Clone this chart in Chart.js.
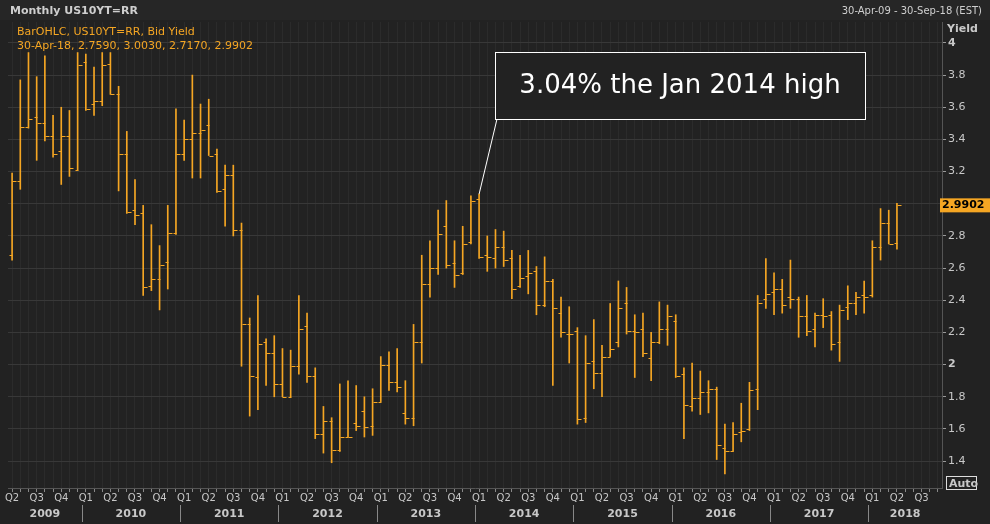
<!DOCTYPE html>
<html>
<head>
<meta charset="utf-8">
<script src="https://cdn.jsdelivr.net/npm/chart.js@4.4.1/dist/chart.umd.min.js"></script>
<style>
  body { margin: 0; background: #1c1c1c; }
  #wrap { position: relative; width: 990px; height: 524px; }
</style>
</head>
<body>
<div id="wrap"><canvas id="ohlc" width="990" height="524"></canvas></div>
<script>
// monthly bars, Apr 2009 .. Apr 2018
const opens = [
  2.68, 3.14, 3.48, 3.54, 3.50, 3.42, 3.33, 3.42, 3.21,
  3.88, 3.62, 3.64, 3.87, 3.68, 3.31, 2.96, 2.94, 2.49, 2.53, 2.64, 2.82,
  3.31, 3.40, 3.44, 3.49, 3.31, 3.09, 3.18, 2.84, 2.25, 1.92, 2.14, 2.07,
  1.88, 1.80, 1.99, 2.24, 1.93, 1.57, 1.65, 1.47, 1.55, 1.64, 1.71, 1.62,
  1.77, 2.00, 1.89, 1.70, 1.67, 2.14, 2.50, 2.60, 2.86, 2.63, 2.57, 2.76,
  3.03, 2.68, 2.66, 2.73, 2.66, 2.49, 2.55, 2.58, 2.37, 2.52, 2.32, 2.19,
  2.21, 1.67, 2.02, 1.95, 2.05, 2.14, 2.38, 2.21, 2.22, 2.04, 2.14, 2.22,
  2.27, 1.94, 1.74, 1.79, 1.83, 1.85, 1.48, 1.46, 1.58, 1.60, 1.85, 2.41,
  2.45, 2.47, 2.42, 2.41, 2.30, 2.22, 2.31, 2.31, 2.14, 2.36, 2.38, 2.43,
  2.43, 2.73, 2.88, 2.759
]
const highs = [
  3.19, 3.77, 3.94, 3.79, 3.92, 3.55, 3.60, 3.58, 3.94,
  3.93, 3.85, 3.94, 3.94, 3.73, 3.45, 3.15, 2.99, 2.87, 2.74, 2.99, 3.59,
  3.52, 3.80, 3.62, 3.65, 3.34, 3.24, 3.24, 2.88, 2.29, 2.43, 2.16, 2.18,
  2.10, 2.09, 2.43, 2.32, 1.98, 1.74, 1.67, 1.88, 1.90, 1.87, 1.80, 1.85,
  2.05, 2.08, 2.10, 1.90, 2.25, 2.68, 2.77, 2.96, 3.02, 2.77, 2.86, 3.05,
  3.06, 2.80, 2.84, 2.83, 2.71, 2.68, 2.71, 2.61, 2.67, 2.53, 2.42, 2.36,
  2.23, 2.18, 2.28, 2.12, 2.38, 2.52, 2.48, 2.31, 2.32, 2.20, 2.39, 2.37,
  2.31, 1.98, 2.01, 1.96, 1.90, 1.86, 1.63, 1.64, 1.76, 1.89, 2.43, 2.66,
  2.57, 2.53, 2.65, 2.42, 2.43, 2.32, 2.41, 2.33, 2.37, 2.49, 2.45, 2.52,
  2.77, 2.97, 2.96, 3.003
]
const lows = [
  2.65, 3.09, 3.47, 3.27, 3.39, 3.29, 3.12, 3.17, 3.21,
  3.58, 3.55, 3.61, 3.68, 3.08, 2.94, 2.87, 2.43, 2.46, 2.34, 2.47, 2.81,
  3.27, 3.16, 3.16, 3.30, 3.07, 2.86, 2.80, 1.99, 1.68, 1.72, 1.87, 1.80,
  1.80, 1.80, 1.94, 1.89, 1.54, 1.45, 1.39, 1.46, 1.55, 1.59, 1.55, 1.56,
  1.77, 1.84, 1.83, 1.63, 1.62, 2.01, 2.42, 2.56, 2.60, 2.48, 2.56, 2.75,
  2.66, 2.58, 2.60, 2.61, 2.41, 2.48, 2.44, 2.31, 2.36, 1.87, 2.17, 2.01,
  1.63, 1.64, 1.85, 1.80, 2.05, 2.11, 2.19, 1.92, 2.05, 1.90, 2.13, 2.12,
  1.92, 1.54, 1.71, 1.69, 1.70, 1.41, 1.32, 1.46, 1.52, 1.59, 1.72, 2.35,
  2.31, 2.32, 2.35, 2.17, 2.18, 2.11, 2.23, 2.09, 2.02, 2.28, 2.31, 2.32,
  2.42, 2.65, 2.75, 2.717
]
const closes = [
  3.14, 3.48, 3.53, 3.50, 3.42, 3.31, 3.42, 3.22, 3.86,
  3.59, 3.64, 3.86, 3.68, 3.31, 2.95, 2.93, 2.48, 2.53, 2.62, 2.82, 3.31,
  3.40, 3.44, 3.46, 3.30, 3.08, 3.18, 2.84, 2.25, 1.93, 2.13, 2.07, 1.88,
  1.80, 1.99, 2.22, 1.93, 1.57, 1.65, 1.47, 1.55, 1.55, 1.62, 1.61, 1.77,
  2.00, 1.89, 1.86, 1.67, 2.14, 2.50, 2.60, 2.81, 2.62, 2.56, 2.75, 3.02,
  2.67, 2.67, 2.73, 2.65, 2.47, 2.54, 2.57, 2.37, 2.52, 2.35, 2.20, 2.19,
  1.66, 2.01, 1.95, 2.05, 2.10, 2.35, 2.21, 2.20, 2.07, 2.14, 2.22, 2.30,
  1.93, 1.75, 1.79, 1.83, 1.85, 1.50, 1.46, 1.57, 1.59, 1.84, 2.38, 2.44,
  2.47, 2.37, 2.41, 2.30, 2.21, 2.31, 2.30, 2.13, 2.34, 2.38, 2.42, 2.42,
  2.73, 2.88, 2.75, 2.9902
]
const yTicks = [1.4, 1.6, 1.8, 2, 2.2, 2.4, 2.6, 2.8, 3, 3.2, 3.4, 3.6, 3.8, 4]
const years = ['2009', '2010', '2011', '2012', '2013', '2014', '2015', '2016', '2017', '2018']

// month labels Apr 2009 .. Sep 2018 (axis runs to 30-Sep-18)
const months = []
for (let i = 0; i < 114; i++) {
  const m = (3 + i) % 12
  months.push({ y: 2009 + Math.floor((3 + i) / 12), m: m })
}
const labels = months.map(d => d.y + '-' + (d.m + 1))

const ORANGE = '#f5a623'
const GREY = '#c8c8c8'

const ohlcTicks = {
  id: 'ohlcTicks',
  beforeDraw(chart) {
    const c = chart.ctx
    c.save()
    c.fillStyle = '#222222'
    c.fillRect(0, 0, 990, 524)
    c.fillStyle = '#262626'
    c.fillRect(0, 0, 990, 20)
    c.font = 'bold 11px "DejaVu Sans"'
    c.fillStyle = '#cfcfcf'
    c.textBaseline = 'middle'
    c.fillText('Monthly US10YT=RR', 10, 11)
    c.font = '10px "DejaVu Sans"'
    c.textAlign = 'right'
    c.fillText('30-Apr-09 - 30-Sep-18 (EST)', 982, 11)
    c.restore()
  },
  afterDatasetsDraw(chart) {
    const c = chart.ctx
    const x = chart.scales.x
    const y = chart.scales.y
    c.save()
    c.strokeStyle = ORANGE
    c.lineWidth = 1
    c.beginPath()
    for (let i = 0; i < opens.length; i++) {
      const px = Math.round(x.getPixelForValue(i)) + 0.5
      const po = Math.round(y.getPixelForValue(opens[i])) + 0.5
      const pc = Math.round(y.getPixelForValue(closes[i])) + 0.5
      c.moveTo(px - 3, po); c.lineTo(px, po)
      c.moveTo(px, pc); c.lineTo(px + 4, pc)
    }
    c.stroke()

    // legend text
    c.font = '11px "DejaVu Sans"'
    c.fillStyle = ORANGE
    c.textBaseline = 'middle'
    c.fillText('BarOHLC, US10YT=RR, Bid Yield', 17, 32)
    c.fillText('30-Apr-18, 2.7590, 3.0030, 2.7170, 2.9902', 17, 46)

    // annotation
    const ax = x.getPixelForValue(57)
    const ay = y.getPixelForValue(highs[57])
    c.strokeStyle = '#ffffff'
    c.beginPath()
    c.moveTo(ax, ay)
    c.lineTo(497, 119)
    c.stroke()
    c.fillStyle = '#222222'
    c.fillRect(495.5, 52.5, 370, 67)
    c.strokeRect(495.5, 52.5, 370, 67)
    c.fillStyle = '#ffffff'
    c.font = '26px "DejaVu Sans"'
    c.textAlign = 'center'
    c.fillText('3.04% the Jan 2014 high', 680, 86)

    // last value box
    const ly = y.getPixelForValue(closes[closes.length - 1])
    c.fillStyle = ORANGE
    c.fillRect(940, ly - 7, 51, 14)
    c.fillStyle = '#000'
    c.font = 'bold 11px "DejaVu Sans"'
    c.textAlign = 'left'
    c.fillText('2.9902', 942, ly)

    // Yield title and Auto box
    c.fillStyle = GREY
    c.font = 'bold 11px "DejaVu Sans"'
    c.fillText('Yield', 947, 29)
    c.strokeStyle = '#dddddd'
    c.strokeRect(946.5, 476.5, 30, 13)
    c.fillText('Auto', 949, 484)

    // year row
    c.font = 'bold 11px "DejaVu Sans"'
    c.textAlign = 'center'
    c.strokeStyle = '#888'
    for (let k = 0; k < years.length; k++) {
      const yr = 2009 + k
      const first = months.findIndex(d => d.y === yr)
      let last = -1
      months.forEach((d, i) => { if (d.y === yr) last = i })
      const x0 = k === 0 ? x.left : (x.getPixelForValue(first) + x.getPixelForValue(first - 1)) / 2
      const x1 = Math.min(x.right, (x.getPixelForValue(last) + x.getPixelForValue(last + 1)) / 2)
      c.fillStyle = GREY
      c.fillText(years[k], (x0 + x1) / 2, 514)
      if (k > 0) {
        c.beginPath()
        c.moveTo(Math.round(x0) + 0.5, 505)
        c.lineTo(Math.round(x0) + 0.5, 522)
        c.stroke()
      }
    }
    c.restore()
  }
}

new Chart(document.getElementById('ohlc'), {
  type: 'bar',
  data: {
    labels: labels,
    datasets: [{
      data: lows.map((l, i) => [l, highs[i]]),
      backgroundColor: ORANGE,
      barThickness: 1,
      borderWidth: 0
    }]
  },
  options: {
    responsive: false,
    animation: false,
    layout: { padding: { left: 8, top: 22, right: 0, bottom: 0 } },
    plugins: { legend: { display: false }, tooltip: { enabled: false } },
    scales: {
      x: {
        offset: true,
        grid: {
          color: '#2b2b2b',
          offset: false,
          drawTicks: true,
          tickLength: 4,
          tickColor: '#888'
        },
        border: { color: '#555' },
        ticks: {
          autoSkip: false,
          maxRotation: 0,
          padding: 0,
          color: GREY,
          font: { family: 'DejaVu Sans', size: 10 },
          callback: (v, i) => months[i].m % 3 === 0 ? 'Q' + (months[i].m / 3 + 1) : ''
        },
        afterFit: s => { s.height = 36 }
      },
      y: {
        position: 'right',
        min: 1.233,
        max: 4.13,
        afterBuildTicks: s => { s.ticks = yTicks.map(v => ({ value: v })) },
        grid: { color: '#383838', tickLength: 4, tickColor: '#999' },
        border: { color: '#555' },
        ticks: {
          padding: 2,
          color: GREY,
          font: ctx => ({ family: 'DejaVu Sans', size: 11, weight: (ctx.tick && (ctx.tick.value === 2 || ctx.tick.value === 4)) ? 'bold' : 'normal' }),
          callback: v => String(v)
        },
        afterFit: s => { s.width = 48 }
      }
    }
  },
  plugins: [ohlcTicks]
})
</script>
</body>
</html>
